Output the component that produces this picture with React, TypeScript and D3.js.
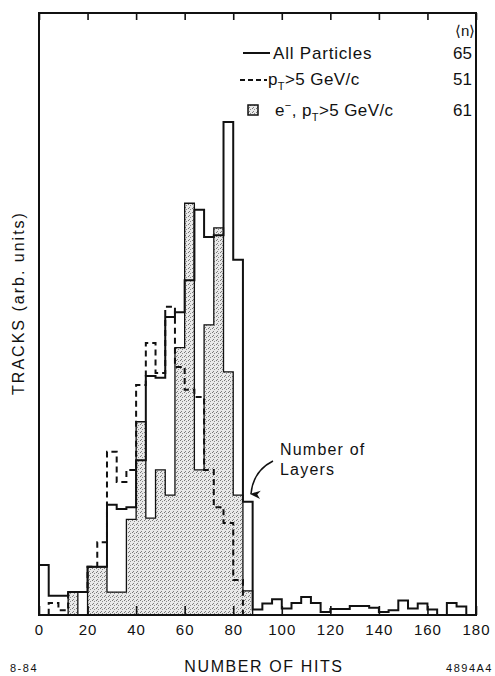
import React, { useEffect, useRef } from 'react';
import * as d3 from 'd3';

// histogram bins are 4 hits wide, first bin starts at 0 hits
const BIN_WIDTH = 4;
const X_TICKS = [0, 20, 40, 60, 80, 100, 120, 140, 160, 180];

// tracks per bin (arb. units)
const allParticles = [
  8.3, 3.2, 3.2, 3.8, 3.8, 8.0, 8.0, 18.3, 17.6, 17.9, 25.7, 39.7, 39.4, 49.5, 50.3,
  55.6, 67.3, 62.8, 63.1, 81.9, 59.0, 18.8, 0.9, 1.9, 2.6, 1.1, 2.0, 3.0, 2.0, 0.5,
  1.0, 1.0, 1.5, 1.5, 1.2, 0.5, 0.8, 2.4, 1.1, 1.9, 0.9, 0, 2.0, 1.4, 0,
];
const ptAbove5 = [
  0, 2.0, 0.8, 3.8, 3.8, 8.0, 12.1, 27.1, 22.1, 24.1, 38.2, 45.2, 40.2, 51.2, 41.2,
  37.4, 36.2, 24.1, 17.9, 15.3, 5.8,
];
const electrons = [
  0, 0, 0, 3.8, 0, 8.0, 8.0, 3.8, 3.8, 15.9, 32.1, 16.1, 24.1, 19.9, 44.4, 68.4, 24.1,
  48.2, 64.3, 40.4, 19.9, 4.0,
];

// mean number of hits shown in the legend
const meanHits = [65, 51, 61];

const FONT = '"Liberation Sans", Arial, sans-serif';

const App = () => {
  const bottomRef = useRef<SVGGElement>(null);
  const topRef = useRef<SVGGElement>(null);

  const x = d3.scaleLinear().domain([0, 180]).range([39, 476]);
  const y = d3.scaleLinear().domain([0, 100]).range([615, 13]);

  useEffect(() => {
    const b = d3.select(bottomRef.current);
    b.selectAll('*').remove();
    b.call(d3.axisBottom(x).tickValues(X_TICKS).tickSize(-9).tickPadding(9).tickFormat(d3.format('d')));
    b.select('.domain').remove();
    b.attr('font-family', FONT).attr('font-size', 15);
    b.selectAll('line').attr('stroke', '#111').attr('stroke-width', 1.6);
    b.selectAll('text').attr('fill', '#111').attr('letter-spacing', 1);

    const t = d3.select(topRef.current);
    t.selectAll('*').remove();
    t.call(d3.axisTop(x).tickValues(X_TICKS).tickSize(-7).tickFormat(() => ''));
    t.select('.domain').remove();
    t.selectAll('line').attr('stroke', '#111').attr('stroke-width', 1.6);
  }, []);

  const stepPoints = (vals: number[]) => {
    const pts: [number, number][] = [[0, 0]];
    vals.forEach((v, i) => pts.push([i * BIN_WIDTH, v]));
    pts.push([vals.length * BIN_WIDTH, 0]);
    return pts;
  };

  const stepLine = d3
    .line<[number, number]>()
    .x(d => x(d[0]))
    .y(d => y(d[1]))
    .curve(d3.curveStepAfter);

  const areaPts: [number, number][] = electrons.map((v, i) => [i * BIN_WIDTH, v]);
  areaPts.push([electrons.length * BIN_WIDTH, electrons[electrons.length - 1]]);
  const stepArea = d3
    .area<[number, number]>()
    .x(d => x(d[0]))
    .y0(y(0))
    .y1(d => y(d[1]))
    .curve(d3.curveStepAfter);

  return (
    <div style={{ position: 'absolute', left: 0, top: 0, background: '#fff' }}>
      <svg width={495} height={676} fontFamily={FONT}>
        <defs>
          <pattern id="dots" width="4" height="4" patternUnits="userSpaceOnUse">
            <rect width="4" height="4" fill="#e9e9e9" />
            <rect x="0" y="0" width="1" height="1" fill="#777" />
            <rect x="2" y="1" width="1" height="1" fill="#8a8a8a" />
            <rect x="1" y="3" width="1" height="1" fill="#808080" />
          </pattern>
          <marker id="head" viewBox="0 0 10 10" refX="5" refY="9" markerWidth="7" markerHeight="9" orient="auto-start-reverse">
            <path d="M1,0 L5,10 L9,0 L5,3 Z" fill="#111" />
          </marker>
        </defs>
        <rect width={495} height={676} fill="#fff" />

        {/* e-, pT > 5 GeV/c shaded histogram */}
        <path d={stepArea(areaPts) || ''} fill="url(#dots)" />
        <path d={stepLine(stepPoints(electrons)) || ''} fill="none" stroke="#111" strokeWidth={1.3} />

        {/* pT > 5 GeV/c dashed */}
        <path d={stepLine(stepPoints(ptAbove5)) || ''} fill="none" stroke="#111" strokeWidth={2} strokeDasharray="6,4" />

        {/* all particles */}
        <path d={stepLine(stepPoints(allParticles)) || ''} fill="none" stroke="#111" strokeWidth={2} />

        {/* frame */}
        <rect x={x(0)} y={y(100)} width={x(180) - x(0)} height={y(0) - y(100)} fill="none" stroke="#111" strokeWidth={2} />
        <g ref={bottomRef} transform={`translate(0,${y(0)})`} />
        <g ref={topRef} transform={`translate(0,${y(100)})`} />

        {/* legend */}
        <g fill="#111" fontSize={17}>
          <text x={455} y={36} fontSize={15}>⟨n⟩</text>
          <line x1={243} x2={270} y1={53} y2={53} stroke="#111" strokeWidth={2} />
          <text x={273} y={59} letterSpacing={0.8}>All Particles</text>
          <text x={453} y={59}>{meanHits[0]}</text>

          <line x1={240} x2={267} y1={80} y2={80} stroke="#111" strokeWidth={2} strokeDasharray="5,3" />
          <text x={268} y={85} letterSpacing={0.4}>
            p<tspan fontSize={11} dy={5}>T</tspan>
            <tspan dy={-5}>{'>'}5 GeV/c</tspan>
          </text>
          <text x={453} y={85}>{meanHits[1]}</text>

          <rect x={248} y={105} width={10} height={10} fill="url(#dots)" stroke="#111" strokeWidth={1.5} />
          <text x={275} y={116} letterSpacing={0.4}>
            e<tspan fontSize={11} dy={-7}>−</tspan>
            <tspan dy={7}>, p</tspan>
            <tspan fontSize={11} dy={5}>T</tspan>
            <tspan dy={-5}>{'>'}5 GeV/c</tspan>
          </text>
          <text x={453} y={116}>{meanHits[2]}</text>
        </g>

        {/* annotation */}
        <text x={280} y={455} fontSize={16} fill="#111" letterSpacing={1.2}>Number of</text>
        <text x={280} y={475} fontSize={16} fill="#111" letterSpacing={1.2}>Layers</text>
        <path d="M273,461 Q253,471 251,494" fill="none" stroke="#111" strokeWidth={1.5} markerEnd="url(#head)" />

        {/* axis titles */}
        <text transform="translate(24,303) rotate(-90)" textAnchor="middle" fontSize={16} fill="#111" letterSpacing={2}>
          TRACKS  (arb. units)
        </text>
        <text x={264} y={672} textAnchor="middle" fontSize={16} fill="#111" letterSpacing={1.6}>NUMBER OF HITS</text>
        <text x={10} y={672} fontSize={11} fill="#111" letterSpacing={1.5}>8-84</text>
        <text x={493} y={672} textAnchor="end" fontSize={11} fill="#111" letterSpacing={1.5}>4894A4</text>
      </svg>
    </div>
  );
};

export default App;
